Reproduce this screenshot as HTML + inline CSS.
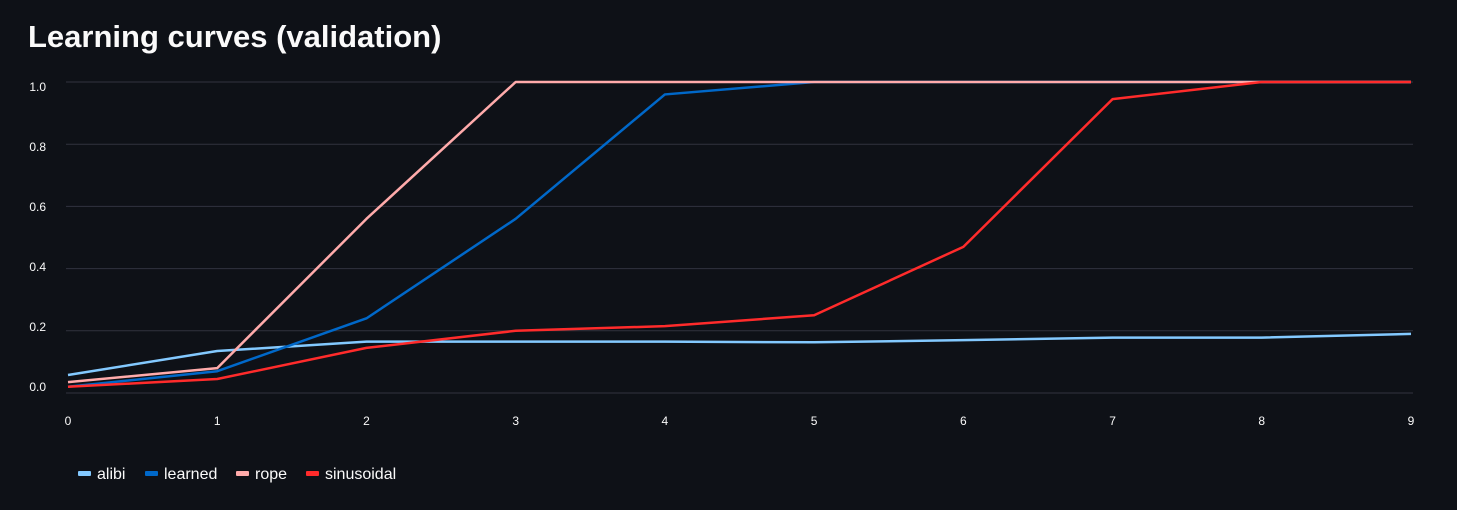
<!DOCTYPE html>
<html><head><meta charset="utf-8"><style>
body{margin:0;background:#0e1117;width:1457px;height:510px;overflow:hidden;font-family:"Liberation Sans",sans-serif}
h1{position:absolute;left:28px;top:19px;margin:0;font-size:31px;font-weight:bold;color:#fafafa}
</style></head><body>
<h1>Learning curves (validation)</h1>
<svg id="c" width="1457" height="510" style="position:absolute;left:0;top:0"></svg>
<script>
const xTicks=[0,1,2,3,4,5,6,7,8,9];
const yTicks=[0,0.2,0.4,0.6,0.8,1.0];
const seriesNames=["alibi","learned","rope","sinusoidal"];
const colors=["#83c9ff","#0068c9","#ffabab","#ff2b2b"];
const alibi=[0.058,0.135,0.165,0.165,0.165,0.163,0.17,0.178,0.178,0.19];
const learned=[0.02,0.07,0.24,0.56,0.96,1,1,1,1,1];
const rope=[0.035,0.08,0.56,1,1,1,1,1,1,1];
const sinusoidal=[0.02,0.045,0.145,0.2,0.215,0.25,0.47,0.945,1,1];
const data=[alibi,learned,rope,sinusoidal];
const svg=document.getElementById('c');const NS="http://www.w3.org/2000/svg";
const X=v=>68+v*(1411-68)/9, Y=v=>393-v*311;
function mk(t,a,p){const e=document.createElementNS(NS,t);for(const k in a)e.setAttribute(k,a[k]);(p||svg).appendChild(e);return e;}
yTicks.forEach(v=>{
 const g=mk('line',{x1:66,x2:1413,y1:Y(v),y2:Y(v),stroke:'#31333f','stroke-width':1});
 
 
 const t=mk('text',{x:46,y:87+(1-v)*300+4,'text-anchor':'end',fill:'#fafafa','font-size':12});
 t.textContent=v.toFixed(1);
 
 
});
xTicks.forEach(v=>{
 const t=mk('text',{x:X(v),y:425,'text-anchor':'middle',fill:'#fafafa','font-size':12});
 t.textContent=v;
 
 
});
data.forEach((d,i)=>{
 const p=mk('polyline',{points:d.map((v,j)=>X(xTicks[j])+','+Y(v)).join(' '),fill:'none',stroke:colors[i],'stroke-width':2.5,'stroke-linejoin':'round'});
 
 
});
const legendX=[78,145,236,306];
seriesNames.forEach((n,i)=>{
 const lx=legendX[i];
 const g=mk('g',{});
 
 
 mk('rect',{x:lx,y:471,width:13,height:5,rx:1,fill:colors[i]},g);
 const t=mk('text',{x:lx+19,y:479,fill:'#fafafa','font-size':16},g);
 t.textContent=n;
});
</script>
</body></html>
